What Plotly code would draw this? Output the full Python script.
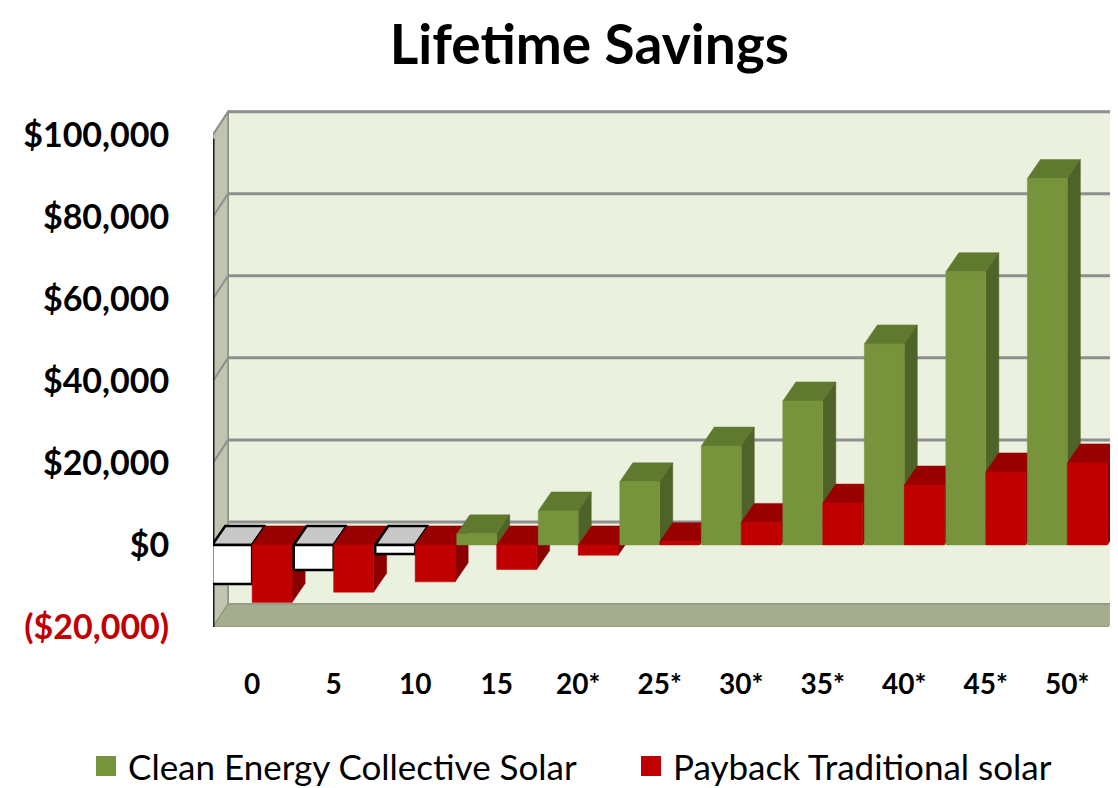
import plotly.graph_objects as go

# ---------------- data ----------------
years = ["0", "5", "10", "15", "20*", "25*", "30*", "35*", "40*", "45*", "50*"]
clean_energy = [-9500, -6100, -2200, 2700, 8300, 15400, 24100, 35100, 49000, 66600, 89300]
payback_traditional = [-14000, -11500, -9000, -6000, -2500, 800, 5500, 10200, 14600, 17800, 20000]
y_ticks = [-20000, 0, 20000, 40000, 60000, 80000, 100000]
y_tick_text = ["<span style='color:#c00000'>($20,000)</span>", "$0", "$20,000", "$40,000",
               "$60,000", "$80,000", "$100,000"]
series_names = ["Clean Energy Collective Solar", "Payback Traditional solar"]
series_colors = ["#77933c", "#c00000"]

# ---------------- styling / geometry ----------------
FONT = "Lato, 'Open Sans', sans-serif"
W, H = 1118, 788
M_L, M_R, M_T, M_B = 205, 0, 100, 169
X_MIN, X_MAX = -0.48, 10.5
Y_MIN, Y_MAX = -20000, 100000
WALL_DX, WALL_DY = 0.184, 5600      # depth of the chart walls (data units)
BAR_DX, BAR_DY = 0.16, 4630         # depth of the bars (data units)
BAR_W = 0.49

green = dict(front="#77933c", top="#5f7a2e", side="#4f6228", line=None)
white = dict(front="#ffffff", top="#c8c8c8", side="#e8e8e8", line="#000000")
red = dict(front="#c00000", top="#990000", side="#8a0000", line=None)

fig = go.Figure()


def poly(xs, ys, fill, line=None):
    fig.add_trace(go.Scatter(
        x=list(xs) + [xs[0]], y=list(ys) + [ys[0]], mode="lines", fill="toself",
        fillcolor=fill,
        line=dict(color=line if line else fill, width=2.5 if line else 0.5),
        hoverinfo="skip", showlegend=False))


def bar3d(x0, v, col):
    x1 = x0 + BAR_W
    top_y = max(v, 0)
    low_y = min(v, 0)
    # top face
    poly([x0, x1, x1 + BAR_DX, x0 + BAR_DX],
         [top_y, top_y, top_y + BAR_DY, top_y + BAR_DY], col["top"], col["line"])
    # side face
    poly([x1, x1, x1 + BAR_DX, x1 + BAR_DX],
         [low_y, top_y, top_y + BAR_DY, low_y + BAR_DY], col["side"], col["line"])
    # front face
    poly([x0, x1, x1, x0], [low_y, low_y, top_y, top_y], col["front"], col["line"])


for i, (g, r) in enumerate(zip(clean_energy, payback_traditional)):
    bar3d(i - BAR_W, g, green if g >= 0 else white)
    bar3d(i, r, red)

# ---------------- walls / floor / gridlines ----------------
shapes = []
# back wall
shapes.append(dict(type="rect", layer="below", xref="x", yref="y",
                   x0=X_MIN + WALL_DX, x1=X_MAX + WALL_DX + 0.3,
                   y0=Y_MIN + WALL_DY, y1=Y_MAX + WALL_DY,
                   fillcolor="#ebf1df", line=dict(color="#9a9a9a", width=2)))
# left wall
shapes.append(dict(type="path", layer="below", xref="x", yref="y",
                   path=(f"M {X_MIN},{Y_MIN} L {X_MIN},{Y_MAX} L {X_MIN + WALL_DX},{Y_MAX + WALL_DY} "
                         f"L {X_MIN + WALL_DX},{Y_MIN + WALL_DY} Z"),
                   fillcolor="#bfc5ae", line=dict(color="#8f9484", width=1.5)))
# floor
shapes.append(dict(type="path", layer="below", xref="x", yref="y",
                   path=(f"M {X_MIN},{Y_MIN} L {X_MAX},{Y_MIN} L {X_MAX + WALL_DX},{Y_MIN + WALL_DY} "
                         f"L {X_MIN + WALL_DX},{Y_MIN + WALL_DY} Z"),
                   fillcolor="#a4ad8e", line=dict(color="#8d957a", width=1)))
# gridlines on back wall & left wall
for yv in y_ticks[2:]:
    shapes.append(dict(type="line", layer="below", xref="x", yref="y",
                       x0=X_MIN + WALL_DX, x1=X_MAX + WALL_DX + 0.3,
                       y0=yv + WALL_DY, y1=yv + WALL_DY,
                       line=dict(color="#8f8f8f", width=3)))
    shapes.append(dict(type="line", layer="below", xref="x", yref="y",
                       x0=X_MIN, x1=X_MIN + WALL_DX, y0=yv, y1=yv + WALL_DY,
                       line=dict(color="#8f8f8f", width=2)))
# zero line on back wall
shapes.append(dict(type="line", layer="below", xref="x", yref="y",
                   x0=X_MIN + WALL_DX, x1=X_MAX + WALL_DX + 0.3,
                   y0=WALL_DY, y1=WALL_DY, line=dict(color="#8f8f8f", width=3)))
# dark vertical axis edge
shapes.append(dict(type="line", layer="below", xref="x", yref="y",
                   x0=X_MIN, x1=X_MIN, y0=Y_MIN, y1=Y_MAX - 1000,
                   line=dict(color="#1a1a1a", width=3)))

# ---------------- legend (drawn as key squares + labels) ----------------
plot_w = W - M_L - M_R
plot_h = H - M_T - M_B


def px_to_paper(px, py):
    return (px - M_L) / plot_w, (H - M_B - py) / plot_h


annotations = []
legend_px = [88, 633]     # left edge of each legend key square (pixels)
legend_cy = 758
for name, c, lx in zip(series_names, series_colors, legend_px):
    x0, y0 = px_to_paper(lx, legend_cy + 10)
    x1, y1 = px_to_paper(lx + 20, legend_cy - 10)
    shapes.append(dict(type="rect", xref="paper", yref="paper", x0=x0, x1=x1, y0=y0, y1=y1,
                       fillcolor=c, line=dict(width=0)))
    tx, ty = px_to_paper(lx + 30, legend_cy)
    annotations.append(dict(xref="paper", yref="paper", x=tx, y=ty, text=name,
                            showarrow=False, xanchor="left", yanchor="middle",
                            font=dict(family=FONT, size=35, color="black")))

fig.update_layout(
    width=W, height=H,
    paper_bgcolor="white", plot_bgcolor="white",
    margin=dict(l=M_L, r=M_R, t=M_T, b=M_B, autoexpand=False),
    shapes=shapes, annotations=annotations,
    showlegend=False,
    title=dict(text="Lifetime Savings", x=0.52, xanchor="center", xref="container",
               y=0.953, yanchor="middle", yref="container",
               font=dict(family=FONT, size=55, color="black", weight="bold")),
    xaxis=dict(range=[X_MIN, X_MAX + 0.22], tickvals=list(range(len(years))), ticktext=years,
               showgrid=False, zeroline=False, showline=False,
               ticks="outside", ticklen=32, tickcolor="rgba(0,0,0,0)",
               tickfont=dict(family=FONT, size=28, color="black", weight="bold")),
    yaxis=dict(range=[Y_MIN, 106500], tickvals=y_ticks, ticktext=y_tick_text,
               showgrid=False, zeroline=False, showline=False,
               ticks="outside", ticklen=36, tickcolor="rgba(0,0,0,0)",
               tickfont=dict(family=FONT, size=34, color="black", weight="bold")),
)

fig.write_html("out.html")
